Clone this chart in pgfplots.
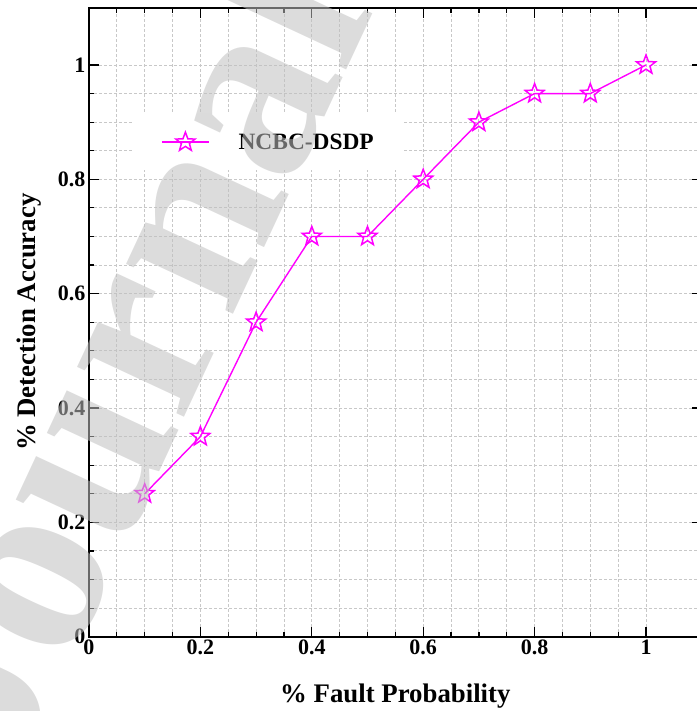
\documentclass[border=0pt]{standalone}
\usepackage{pgfplots}
\pgfplotsset{compat=1.18}
\usepackage{fontspec}
\setmainfont{Liberation Serif}

\definecolor{curve}{RGB}{255,0,255}
\definecolor{gridgray}{RGB}{200,200,200}

% outlined five-pointed star
\pgfdeclareplotmark{ostar}{%
  \pgfpathmoveto{\pgfpointpolar{90}{\pgfplotmarksize}}%
  \pgfpathlineto{\pgfpointpolar{126}{0.42\pgfplotmarksize}}%
  \pgfpathlineto{\pgfpointpolar{162}{\pgfplotmarksize}}%
  \pgfpathlineto{\pgfpointpolar{198}{0.42\pgfplotmarksize}}%
  \pgfpathlineto{\pgfpointpolar{234}{\pgfplotmarksize}}%
  \pgfpathlineto{\pgfpointpolar{270}{0.42\pgfplotmarksize}}%
  \pgfpathlineto{\pgfpointpolar{306}{\pgfplotmarksize}}%
  \pgfpathlineto{\pgfpointpolar{342}{0.42\pgfplotmarksize}}%
  \pgfpathlineto{\pgfpointpolar{18}{\pgfplotmarksize}}%
  \pgfpathlineto{\pgfpointpolar{54}{0.42\pgfplotmarksize}}%
  \pgfpathclose
  \pgfusepathqstroke
}

\begin{document}
\begin{tikzpicture}
\begin{axis}[
  scale only axis,
  width=612.7pt, height=628.9pt,
  xmin=0, xmax=1.1, ymin=0, ymax=1.1,
  xtick={0,0.2,0.4,0.6,0.8,1},
  ytick={0,0.2,0.4,0.6,0.8,1},
  minor x tick num=3, minor y tick num=3,
  grid=both,
  major grid style={gridgray, dashed, line width=0.9pt, dash pattern=on 3pt off 2pt},
  minor grid style={gridgray, dashed, line width=0.9pt, dash pattern=on 3pt off 2pt},
  axis line style={black, line width=1.6pt},
  tick align=inside,
  major tick length=10pt, minor tick length=5pt,
  every tick/.style={black, line width=1.2pt},
  /pgf/number format/assume math mode=true,
  ticklabel style={font=\fontsize{22}{26}\selectfont\bfseries},
  xlabel={\% Fault Probability},
  ylabel={\% Detection Accuracy},
  label style={font=\fontsize{26.8}{30}\selectfont\bfseries},
  xlabel style={at={(axis description cs:0.5,-0.1054)}, anchor=base},
  ylabel style={at={(axis description cs:-0.0865,0.5)}, anchor=base},
  legend style={at={(axis cs:0.079,0.916)}, anchor=north west,
    draw=none, fill=white, inner xsep=28pt, inner ysep=19pt,
    nodes={inner sep=0pt}, column sep=29pt,
    font=\fontsize{23.4}{27}\selectfont\bfseries},
  legend image code/.code={%
    \draw[mark repeat=2, mark phase=2, #1]
      plot coordinates {(0pt,0pt) (23.5pt,0pt) (47pt,0pt)};},
]
\addplot[curve, line width=1.4pt, mark=ostar, mark size=10pt,
  mark options={solid, line width=1.5pt}]
  coordinates {
    (0.1,0.25) (0.2,0.35) (0.3,0.55) (0.4,0.70) (0.5,0.70)
    (0.6,0.80) (0.7,0.90) (0.8,0.95) (0.9,0.95) (1.0,1.00)
  };
\addlegendentry{NCBC-DSDP}
\end{axis}
% publisher watermark laid over the figure
\node[rotate=65, anchor=base, text=black!25, text opacity=0.55,
  font=\fontsize{257}{265}\selectfont\bfseries] at (105pt,238.7pt) {Journal};
\pgfresetboundingbox
\path (-89pt,-74.3pt) rectangle (607pt,636.7pt);
\end{tikzpicture}
\end{document}
